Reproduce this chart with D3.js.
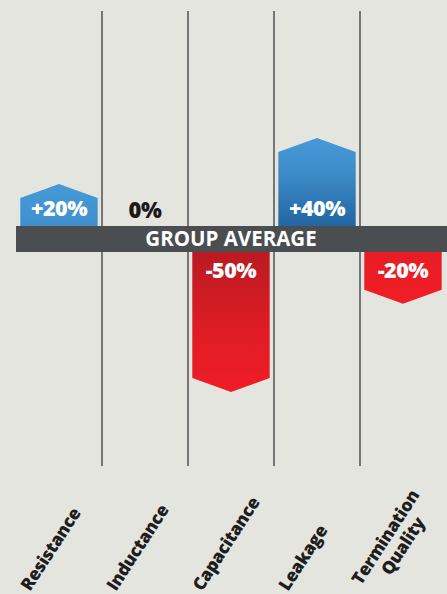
<!DOCTYPE html>
<html>
<head>
<meta charset="utf-8">
<script src="https://cdn.jsdelivr.net/npm/d3@7"></script>
<style>
  html, body { margin: 0; padding: 0; background: #e5e5e0; }
  svg { display: block; font-family: "Open Sans", sans-serif; }
</style>
</head>
<body>
<svg id="chart"></svg>
<script>
// values (percent vs. group average)
const categories = ["Resistance", "Inductance", "Capacitance", "Leakage", "Termination\nQuality"];
const values = [20, 0, -50, 40, -20];
const valueLabels = ["+20%", "0%", "-50%", "+40%", "-20%"];
const bandLabel = "GROUP AVERAGE";

const width = 447;
const height = 594;

const svg = d3.select("#chart")
  .attr("width", width)
  .attr("height", height);

svg.append("rect")
  .attr("width", width)
  .attr("height", height)
  .attr("fill", "#e5e5e0");

const x = d3.scaleBand()
  .domain(categories)
  .range([16, 446])
  .paddingInner(0.1)
  .paddingOuter(0.05);

// band for the group average sits between 226 and 252, bars grow out from under it
const bandTop = 226, bandBottom = 252;
const yUp = d3.scaleLinear().domain([0, 40]).range([230, 138]);
const yDown = d3.scaleLinear().domain([0, -50]).range([245, 392]);
const yTip = v => v >= 0 ? yUp(v) : yDown(v);
const base = (bandTop + bandBottom) / 2;
const point = 14; // height of the arrow tip

// column separators
const step = x.step();
const seps = d3.range(1, categories.length).map(i => x.range()[0] + i * step);
svg.selectAll("line.sep")
  .data(seps)
  .join("line")
  .attr("class", "sep")
  .attr("x1", d => d).attr("x2", d => d)
  .attr("y1", 11).attr("y2", 466)
  .attr("stroke", "#45474a")
  .attr("stroke-width", 1.4);

// gradients: bright at the tip, darker toward the band for the long bars
const defs = svg.append("defs");
const maxUp = d3.max(values), maxDown = -d3.min(values);
const colUp = ["#469ad8", "#1c5c99"];
const colDown = ["#ef1d26", "#b51a21"];

values.forEach((v, i) => {
  if (v === 0) return;
  const up = v > 0;
  const c = up ? colUp : colDown;
  const t = Math.pow(Math.abs(v) / (up ? maxUp : maxDown), 2);
  const g = defs.append("linearGradient")
    .attr("id", "g" + i)
    .attr("x1", 0).attr("x2", 0)
    .attr("y1", up ? 0 : 1).attr("y2", up ? 1 : 0);
  g.append("stop").attr("offset", 0).attr("stop-color", c[0]);
  g.append("stop").attr("offset", 0.35).attr("stop-color", d3.interpolateRgb(c[0], c[1])(t * 0.25));
  g.append("stop").attr("offset", 1).attr("stop-color", d3.interpolateRgb(c[0], c[1])(t));
});

const data = categories.map((c, i) => ({ cat: c, v: values[i], label: valueLabels[i], i }));

function arrow(d) {
  const x0 = x(d.cat), x1 = x0 + x.bandwidth(), cx = x0 + x.bandwidth() / 2;
  const tip = yTip(d.v);
  const s = d.v > 0 ? tip + point : tip - point;
  const p = d3.path();
  p.moveTo(x0, base);
  p.lineTo(x0, s);
  p.lineTo(cx, tip);
  p.lineTo(x1, s);
  p.lineTo(x1, base);
  p.closePath();
  return p.toString();
}

svg.selectAll("path.bar")
  .data(data.filter(d => d.v !== 0))
  .join("path")
  .attr("class", "bar")
  .attr("d", arrow)
  .attr("fill", d => `url(#g${d.i})`);

// group average band
svg.append("rect")
  .attr("x", 16)
  .attr("y", bandTop)
  .attr("width", width - 16)
  .attr("height", bandBottom - bandTop)
  .attr("fill", "#4b4e51");

svg.append("text")
  .attr("x", 231)
  .attr("y", 246)
  .attr("text-anchor", "middle")
  .attr("fill", "#fff")
  .attr("font-size", 20.5)
  .attr("font-weight", 700)
  .text(bandLabel);

// value labels
svg.selectAll("text.val")
  .data(data)
  .join("text")
  .attr("class", "val")
  .attr("x", d => x(d.cat) + x.bandwidth() / 2)
  .attr("y", d => d.v > 0 ? 216 : d.v < 0 ? 278 : 218)
  .attr("text-anchor", "middle")
  .attr("fill", d => d.v === 0 ? "#1a1a1a" : "#fff")
  .attr("font-size", d => d.v === 0 ? 22 : 21.5)
  .attr("font-weight", 800)
  .attr("letter-spacing", -0.5)
  .text(d => d.label);

// rotated category names
const angle = -57;
const catSize = 17.5;
const cats = svg.selectAll("g.cat")
  .data(data)
  .join("g")
  .attr("class", "cat")
  .attr("transform", d => {
    const lines = d.cat.split("\n").length;
    const cx = x(d.cat) + x.bandwidth() / 2;
    return lines > 1
      ? `translate(${cx - 42},${586}) rotate(${angle})`
      : `translate(${cx - 29},${592}) rotate(${angle})`;
  });

cats.each(function (d) {
  const g = d3.select(this);
  const lines = d.cat.split("\n");
  const first = g.append("text")
    .attr("font-size", catSize)
    .attr("font-weight", 800)
    .attr("letter-spacing", -0.3)
    .attr("fill", "#1e1e1e")
    .text(lines[0]);
  if (lines.length > 1) {
    const len = first.node().getComputedTextLength();
    g.append("text")
      .attr("x", len / 2 + 2)
      .attr("y", catSize + 2)
      .attr("text-anchor", "middle")
      .attr("font-size", catSize)
      .attr("font-weight", 800)
      .attr("letter-spacing", -0.3)
      .attr("fill", "#1e1e1e")
      .text(lines[1]);
  }
});
</script>
</body>
</html>
